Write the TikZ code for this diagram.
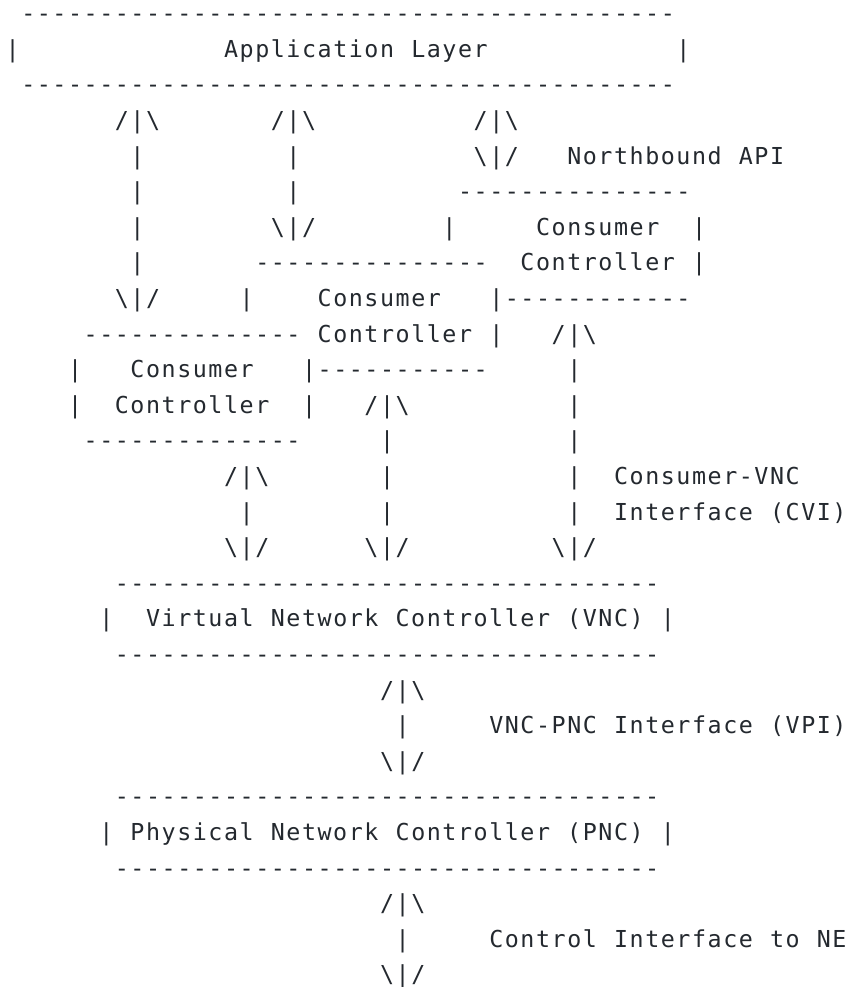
\documentclass[tikz,border=0pt]{standalone}
\usepackage{fontspec}
\newfontfamily\asciifont{DejaVu Sans Mono}
\definecolor{ink}{RGB}{36,41,47}
\newlength{\cw}
\setlength{\cw}{11.7pt}
\makeatletter
\def\cells#1{\cells@i#1\relax}
\def\cells@i#1{\ifx#1\relax\else\makebox[\cw][c]{#1}\expandafter\cells@i\fi}
\makeatother
\newcommand{\bs}{\textbackslash}
\newcommand{\run}[3]{\node[asc] (r#1-#2) at ({3.675pt+11.7pt*#2},{-16.275pt-26.7pt*(#1-1)}) {\cells{#3}};}
\newcommand{\dashrun}[3]{\node[asc] (d#1-#2) at ({3.675pt+11.7pt*#2},{-16.275pt-26.7pt*(#1-1)}) {\foreach \k in {1,...,#3}{\makebox[\cw][c]{-}}};}
\tikzset{asc/.style={anchor=base west, inner sep=0pt, outer sep=0pt, text=ink,
  font=\asciifont\fontsize{17.5pt}{20pt}\selectfont}}
\begin{document}
\begin{tikzpicture}
\fill[white] (0,0) rectangle (635.25pt,-740.25pt);
\useasboundingbox (0,0) rectangle (635.25pt,-740.25pt);
% Application layer
\dashrun{1}{1}{42}
\run{2}{0}{|}
\run{2}{14}{Application~Layer}
\run{2}{43}{|}
\dashrun{3}{1}{42}
% Northbound arrows
\run{4}{7}{/|\bs}
\run{4}{17}{/|\bs}
\run{4}{30}{/|\bs}
\run{5}{8}{|}
\run{5}{18}{|}
\run{5}{30}{\bs|/}
\run{5}{36}{Northbound~API}
\run{6}{8}{|}
\run{6}{18}{|}
\dashrun{6}{29}{15}
\run{7}{8}{|}
\run{7}{17}{\bs|/}
\run{7}{28}{|}
\run{7}{34}{Consumer}
\run{7}{44}{|}
\run{8}{8}{|}
\dashrun{8}{16}{15}
\run{8}{33}{Controller}
\run{8}{44}{|}
\run{9}{7}{\bs|/}
\run{9}{15}{|}
\run{9}{20}{Consumer}
\run{9}{31}{|}
\dashrun{9}{32}{12}
\dashrun{10}{5}{14}
\run{10}{20}{Controller}
\run{10}{31}{|}
\run{10}{35}{/|\bs}
\run{11}{4}{|}
\run{11}{8}{Consumer}
\run{11}{19}{|}
\dashrun{11}{20}{11}
\run{11}{36}{|}
\run{12}{4}{|}
\run{12}{7}{Controller}
\run{12}{19}{|}
\run{12}{23}{/|\bs}
\run{12}{36}{|}
\dashrun{13}{5}{14}
\run{13}{24}{|}
\run{13}{36}{|}
\run{14}{14}{/|\bs}
\run{14}{24}{|}
\run{14}{36}{|}
\run{14}{39}{Consumer-VNC}
\run{15}{15}{|}
\run{15}{24}{|}
\run{15}{36}{|}
\run{15}{39}{Interface~(CVI)}
\run{16}{14}{\bs|/}
\run{16}{23}{\bs|/}
\run{16}{35}{\bs|/}
% VNC
\dashrun{17}{7}{35}
\run{18}{6}{|}
\run{18}{9}{Virtual~Network~Controller~(VNC)}
\run{18}{42}{|}
\dashrun{19}{7}{35}
\run{20}{24}{/|\bs}
\run{21}{25}{|}
\run{21}{31}{VNC-PNC~Interface~(VPI)}
\run{22}{24}{\bs|/}
% PNC
\dashrun{23}{7}{35}
\run{24}{6}{|}
\run{24}{8}{Physical~Network~Controller~(PNC)}
\run{24}{42}{|}
\dashrun{25}{7}{35}
\run{26}{24}{/|\bs}
\run{27}{25}{|}
\run{27}{31}{Control~Interface~to~NE}
\run{28}{24}{\bs|/}
\end{tikzpicture}
\end{document}
